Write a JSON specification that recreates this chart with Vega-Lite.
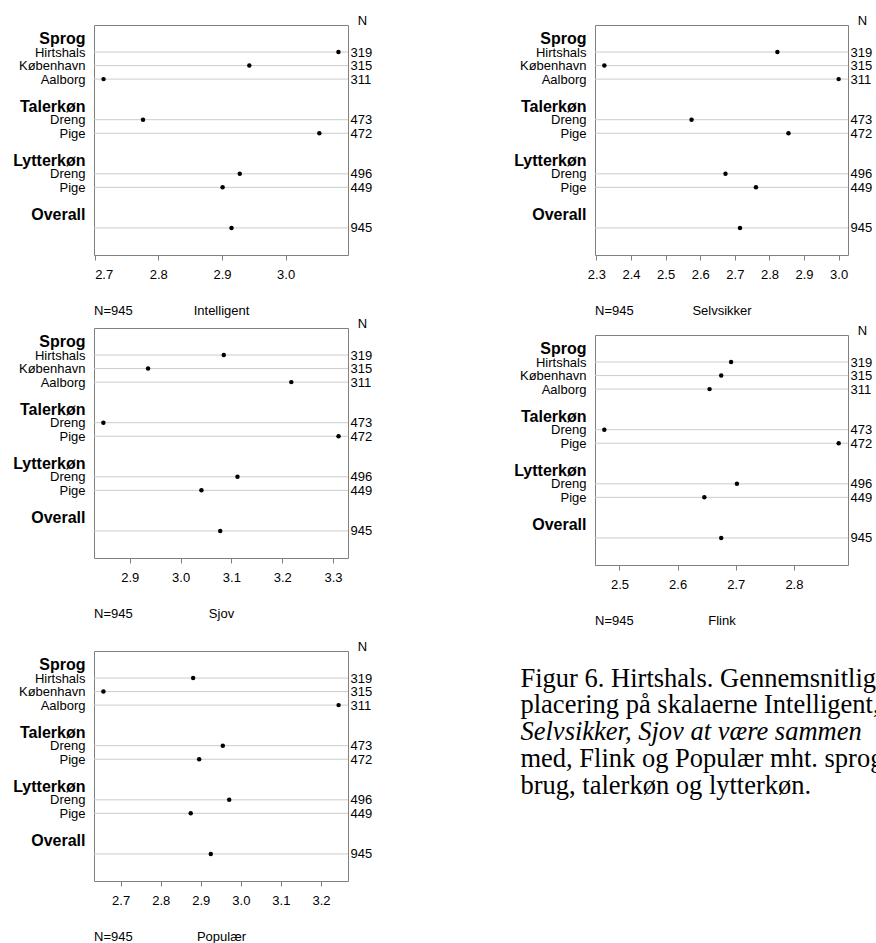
{
  "$schema": "https://vega.github.io/schema/vega-lite/v6.json",
  "background": "white",
  "padding": {"left": 12, "top": 13, "right": 0, "bottom": 0},
  "config": {
    "font": "Liberation Sans",
    "view": {"stroke": "#808080", "strokeWidth": 1},
    "axis": {"labelColor": "black", "titleColor": "black", "labelFontSize": 13, "titleFontSize": 13, "titleFontWeight": "normal", "grid": false, "domain": false, "tickColor": "#808080"},
    "title": {"fontSize": 13, "fontWeight": "normal", "color": "black", "font": "Liberation Sans"}
  },
  "datasets": {
    "means": [
      {"scale": "Intelligent", "row": "Sprog|Hirtshals|319", "mean": 3.083},
      {"scale": "Intelligent", "row": "Sprog|København|315", "mean": 2.943},
      {"scale": "Intelligent", "row": "Sprog|Aalborg|311", "mean": 2.714},
      {"scale": "Intelligent", "row": "Talerkøn|Dreng|473", "mean": 2.776},
      {"scale": "Intelligent", "row": "Talerkøn|Pige|472", "mean": 3.053},
      {"scale": "Intelligent", "row": "Lytterkøn|Dreng|496", "mean": 2.928},
      {"scale": "Intelligent", "row": "Lytterkøn|Pige|449", "mean": 2.901},
      {"scale": "Intelligent", "row": "Overall||945", "mean": 2.915},
      {"scale": "Selvsikker", "row": "Sprog|Hirtshals|319", "mean": 2.823},
      {"scale": "Selvsikker", "row": "Sprog|København|315", "mean": 2.323},
      {"scale": "Selvsikker", "row": "Sprog|Aalborg|311", "mean": 3.0},
      {"scale": "Selvsikker", "row": "Talerkøn|Dreng|473", "mean": 2.575},
      {"scale": "Selvsikker", "row": "Talerkøn|Pige|472", "mean": 2.855},
      {"scale": "Selvsikker", "row": "Lytterkøn|Dreng|496", "mean": 2.673},
      {"scale": "Selvsikker", "row": "Lytterkøn|Pige|449", "mean": 2.761},
      {"scale": "Selvsikker", "row": "Overall||945", "mean": 2.715},
      {"scale": "Sjov", "row": "Sprog|Hirtshals|319", "mean": 3.085},
      {"scale": "Sjov", "row": "Sprog|København|315", "mean": 2.936},
      {"scale": "Sjov", "row": "Sprog|Aalborg|311", "mean": 3.218},
      {"scale": "Sjov", "row": "Talerkøn|Dreng|473", "mean": 2.848},
      {"scale": "Sjov", "row": "Talerkøn|Pige|472", "mean": 3.311},
      {"scale": "Sjov", "row": "Lytterkøn|Dreng|496", "mean": 3.112},
      {"scale": "Sjov", "row": "Lytterkøn|Pige|449", "mean": 3.041},
      {"scale": "Sjov", "row": "Overall||945", "mean": 3.078},
      {"scale": "Flink", "row": "Sprog|Hirtshals|319", "mean": 2.692},
      {"scale": "Flink", "row": "Sprog|København|315", "mean": 2.675},
      {"scale": "Flink", "row": "Sprog|Aalborg|311", "mean": 2.655},
      {"scale": "Flink", "row": "Talerkøn|Dreng|473", "mean": 2.474},
      {"scale": "Flink", "row": "Talerkøn|Pige|472", "mean": 2.877},
      {"scale": "Flink", "row": "Lytterkøn|Dreng|496", "mean": 2.702},
      {"scale": "Flink", "row": "Lytterkøn|Pige|449", "mean": 2.646},
      {"scale": "Flink", "row": "Overall||945", "mean": 2.675},
      {"scale": "Populær", "row": "Sprog|Hirtshals|319", "mean": 2.881},
      {"scale": "Populær", "row": "Sprog|København|315", "mean": 2.657},
      {"scale": "Populær", "row": "Sprog|Aalborg|311", "mean": 3.244},
      {"scale": "Populær", "row": "Talerkøn|Dreng|473", "mean": 2.955},
      {"scale": "Populær", "row": "Talerkøn|Pige|472", "mean": 2.896},
      {"scale": "Populær", "row": "Lytterkøn|Dreng|496", "mean": 2.971},
      {"scale": "Populær", "row": "Lytterkøn|Pige|449", "mean": 2.875},
      {"scale": "Populær", "row": "Overall||945", "mean": 2.925}
    ],
    "caption": [
      {"line": "Figur 6. Hirtshals. Gennemsnitlig"},
      {"line": "placering på skalaerne Intelligent,"},
      {"line": "Selvsikker, Sjov at være sammen"},
      {"line": "med, Flink og Populær mht. sprog-"},
      {"line": "brug, talerkøn og lytterkøn."}
    ]
  },
  "data": {"name": "means"},
  "spacing": 140,
  "hconcat": [
    {
      "spacing": -3,
      "vconcat": [
        {
          "width": 254, "height": 230,
          "title": {"text": "N=945", "orient": "bottom", "anchor": "start", "frame": "group", "offset": -12},
          "transform": [{"filter": "datum.scale === 'Intelligent'"}],
          "layer": [
            {"mark": {"type": "rule", "color": "#cccccc", "strokeWidth": 1},
             "encoding": {"y": {"field": "row", "type": "ordinal",
               "scale": {"type": "point", "padding": 0, "domain": ["_0","Sprog","Sprog|Hirtshals|319","Sprog|København|315","Sprog|Aalborg|311","_5","Talerkøn","Talerkøn|Dreng|473","Talerkøn|Pige|472","_9","Lytterkøn","Lytterkøn|Dreng|496","Lytterkøn|Pige|449","_13","Overall","Overall||945","_16","_17"]},
               "axis": {"orient": "left", "title": null, "ticks": false, "tickSize": 0, "domain": false, "labelPadding": 9, "labelLimit": 0, "labelOverlap": false,
                 "values": ["Sprog","Sprog|Hirtshals|319","Sprog|København|315","Sprog|Aalborg|311","Talerkøn","Talerkøn|Dreng|473","Talerkøn|Pige|472","Lytterkøn","Lytterkøn|Dreng|496","Lytterkøn|Pige|449","Overall"],
                 "labelExpr": "indexof(datum.value, '|') < 0 ? datum.value : split(datum.value, '|')[1]",
                 "labelFontWeight": {"condition": {"test": "indexof(datum.value, '|') < 0", "value": "bold"}, "value": "normal"},
                 "labelFontSize": {"condition": {"test": "indexof(datum.value, '|') < 0", "value": 16}, "value": 13}}}}},
            {"mark": {"type": "circle", "color": "black", "size": 20, "opacity": 1},
             "encoding": {
               "x": {"field": "mean", "type": "quantitative", "scale": {"domain": [2.699, 3.098], "nice": false, "zero": false},
                 "axis": {"values": [2.7, 2.8, 2.9, 3.0], "format": ".1f", "title": "Intelligent", "tickSize": 5, "labelPadding": 8, "titlePadding": 23, "domain": false}},
               "y": {"field": "row", "type": "ordinal",
                 "scale": {"type": "point", "padding": 0, "domain": ["_0","Sprog","Sprog|Hirtshals|319","Sprog|København|315","Sprog|Aalborg|311","_5","Talerkøn","Talerkøn|Dreng|473","Talerkøn|Pige|472","_9","Lytterkøn","Lytterkøn|Dreng|496","Lytterkøn|Pige|449","_13","Overall","Overall||945","_16","_17"]},
                 "axis": {"orient": "right", "title": "N", "titleAngle": 0, "titleAlign": "center", "titleBaseline": "alphabetic", "titleX": 14, "titleY": -1, "ticks": false, "tickSize": 0, "domain": false, "labelPadding": 2, "labelOverlap": false,
                   "values": ["Sprog|Hirtshals|319","Sprog|København|315","Sprog|Aalborg|311","Talerkøn|Dreng|473","Talerkøn|Pige|472","Lytterkøn|Dreng|496","Lytterkøn|Pige|449","Overall||945"],
                   "labelExpr": "split(datum.value, '|')[2]"}}}}
          ],
          "resolve": {"axis": {"y": "independent"}}
        },
        {
          "spacing": 17,
          "vconcat": [
            {
              "width": 254, "height": 230,
              "title": {"text": "N=945", "orient": "bottom", "anchor": "start", "frame": "group", "offset": -12},
              "transform": [{"filter": "datum.scale === 'Sjov'"}],
              "layer": [
                {"mark": {"type": "rule", "color": "#cccccc", "strokeWidth": 1},
                 "encoding": {"y": {"field": "row", "type": "ordinal",
                   "scale": {"type": "point", "padding": 0, "domain": ["_0","Sprog","Sprog|Hirtshals|319","Sprog|København|315","Sprog|Aalborg|311","_5","Talerkøn","Talerkøn|Dreng|473","Talerkøn|Pige|472","_9","Lytterkøn","Lytterkøn|Dreng|496","Lytterkøn|Pige|449","_13","Overall","Overall||945","_16","_17"]},
                   "axis": {"orient": "left", "title": null, "ticks": false, "tickSize": 0, "domain": false, "labelPadding": 9, "labelLimit": 0, "labelOverlap": false,
                     "values": ["Sprog","Sprog|Hirtshals|319","Sprog|København|315","Sprog|Aalborg|311","Talerkøn","Talerkøn|Dreng|473","Talerkøn|Pige|472","Lytterkøn","Lytterkøn|Dreng|496","Lytterkøn|Pige|449","Overall"],
                     "labelExpr": "indexof(datum.value, '|') < 0 ? datum.value : split(datum.value, '|')[1]",
                     "labelFontWeight": {"condition": {"test": "indexof(datum.value, '|') < 0", "value": "bold"}, "value": "normal"},
                     "labelFontSize": {"condition": {"test": "indexof(datum.value, '|') < 0", "value": 16}, "value": 13}}}}},
                {"mark": {"type": "circle", "color": "black", "size": 20, "opacity": 1},
                 "encoding": {
                   "x": {"field": "mean", "type": "quantitative", "scale": {"domain": [2.8295, 3.3296], "nice": false, "zero": false},
                     "axis": {"values": [2.9, 3.0, 3.1, 3.2, 3.3], "format": ".1f", "title": "Sjov", "tickSize": 5, "labelPadding": 8, "titlePadding": 23, "domain": false}},
                   "y": {"field": "row", "type": "ordinal",
                     "scale": {"type": "point", "padding": 0, "domain": ["_0","Sprog","Sprog|Hirtshals|319","Sprog|København|315","Sprog|Aalborg|311","_5","Talerkøn","Talerkøn|Dreng|473","Talerkøn|Pige|472","_9","Lytterkøn","Lytterkøn|Dreng|496","Lytterkøn|Pige|449","_13","Overall","Overall||945","_16","_17"]},
                     "axis": {"orient": "right", "title": "N", "titleAngle": 0, "titleAlign": "center", "titleBaseline": "alphabetic", "titleX": 14, "titleY": -1, "ticks": false, "tickSize": 0, "domain": false, "labelPadding": 2, "labelOverlap": false,
                       "values": ["Sprog|Hirtshals|319","Sprog|København|315","Sprog|Aalborg|311","Talerkøn|Dreng|473","Talerkøn|Pige|472","Lytterkøn|Dreng|496","Lytterkøn|Pige|449","Overall||945"],
                       "labelExpr": "split(datum.value, '|')[2]"}}}}
              ],
              "resolve": {"axis": {"y": "independent"}}
            },
            {
              "width": 254, "height": 230,
              "title": {"text": "N=945", "orient": "bottom", "anchor": "start", "frame": "group", "offset": -12},
              "transform": [{"filter": "datum.scale === 'Populær'"}],
              "layer": [
                {"mark": {"type": "rule", "color": "#cccccc", "strokeWidth": 1},
                 "encoding": {"y": {"field": "row", "type": "ordinal",
                   "scale": {"type": "point", "padding": 0, "domain": ["_0","Sprog","Sprog|Hirtshals|319","Sprog|København|315","Sprog|Aalborg|311","_5","Talerkøn","Talerkøn|Dreng|473","Talerkøn|Pige|472","_9","Lytterkøn","Lytterkøn|Dreng|496","Lytterkøn|Pige|449","_13","Overall","Overall||945","_16","_17"]},
                   "axis": {"orient": "left", "title": null, "ticks": false, "tickSize": 0, "domain": false, "labelPadding": 9, "labelLimit": 0, "labelOverlap": false,
                     "values": ["Sprog","Sprog|Hirtshals|319","Sprog|København|315","Sprog|Aalborg|311","Talerkøn","Talerkøn|Dreng|473","Talerkøn|Pige|472","Lytterkøn","Lytterkøn|Dreng|496","Lytterkøn|Pige|449","Overall"],
                     "labelExpr": "indexof(datum.value, '|') < 0 ? datum.value : split(datum.value, '|')[1]",
                     "labelFontWeight": {"condition": {"test": "indexof(datum.value, '|') < 0", "value": "bold"}, "value": "normal"},
                     "labelFontSize": {"condition": {"test": "indexof(datum.value, '|') < 0", "value": 16}, "value": 13}}}}},
                {"mark": {"type": "circle", "color": "black", "size": 20, "opacity": 1},
                 "encoding": {
                   "x": {"field": "mean", "type": "quantitative", "scale": {"domain": [2.6335, 3.2675], "nice": false, "zero": false},
                     "axis": {"values": [2.7, 2.8, 2.9, 3.0, 3.1, 3.2], "format": ".1f", "title": "Populær", "tickSize": 5, "labelPadding": 8, "titlePadding": 23, "domain": false}},
                   "y": {"field": "row", "type": "ordinal",
                     "scale": {"type": "point", "padding": 0, "domain": ["_0","Sprog","Sprog|Hirtshals|319","Sprog|København|315","Sprog|Aalborg|311","_5","Talerkøn","Talerkøn|Dreng|473","Talerkøn|Pige|472","_9","Lytterkøn","Lytterkøn|Dreng|496","Lytterkøn|Pige|449","_13","Overall","Overall||945","_16","_17"]},
                     "axis": {"orient": "right", "title": "N", "titleAngle": 0, "titleAlign": "center", "titleBaseline": "alphabetic", "titleX": 14, "titleY": -1, "ticks": false, "tickSize": 0, "domain": false, "labelPadding": 2, "labelOverlap": false,
                       "values": ["Sprog|Hirtshals|319","Sprog|København|315","Sprog|Aalborg|311","Talerkøn|Dreng|473","Talerkøn|Pige|472","Lytterkøn|Dreng|496","Lytterkøn|Pige|449","Overall||945"],
                       "labelExpr": "split(datum.value, '|')[2]"}}}}
              ],
              "resolve": {"axis": {"y": "independent"}}
            }
          ]
        }
      ]
    },
    {
      "spacing": 4,
      "vconcat": [
        {
          "width": 253, "height": 230,
          "title": {"text": "N=945", "orient": "bottom", "anchor": "start", "frame": "group", "offset": -12},
          "transform": [{"filter": "datum.scale === 'Selvsikker'"}],
          "layer": [
            {"mark": {"type": "rule", "color": "#cccccc", "strokeWidth": 1},
             "encoding": {"y": {"field": "row", "type": "ordinal",
               "scale": {"type": "point", "padding": 0, "domain": ["_0","Sprog","Sprog|Hirtshals|319","Sprog|København|315","Sprog|Aalborg|311","_5","Talerkøn","Talerkøn|Dreng|473","Talerkøn|Pige|472","_9","Lytterkøn","Lytterkøn|Dreng|496","Lytterkøn|Pige|449","_13","Overall","Overall||945","_16","_17"]},
               "axis": {"orient": "left", "title": null, "ticks": false, "tickSize": 0, "domain": false, "labelPadding": 9, "labelLimit": 0, "labelOverlap": false,
                 "values": ["Sprog","Sprog|Hirtshals|319","Sprog|København|315","Sprog|Aalborg|311","Talerkøn","Talerkøn|Dreng|473","Talerkøn|Pige|472","Lytterkøn","Lytterkøn|Dreng|496","Lytterkøn|Pige|449","Overall"],
                 "labelExpr": "indexof(datum.value, '|') < 0 ? datum.value : split(datum.value, '|')[1]",
                 "labelFontWeight": {"condition": {"test": "indexof(datum.value, '|') < 0", "value": "bold"}, "value": "normal"},
                 "labelFontSize": {"condition": {"test": "indexof(datum.value, '|') < 0", "value": 16}, "value": 13}}}}},
            {"mark": {"type": "circle", "color": "black", "size": 20, "opacity": 1},
             "encoding": {
               "x": {"field": "mean", "type": "quantitative", "scale": {"domain": [2.296, 3.027], "nice": false, "zero": false},
                 "axis": {"values": [2.3, 2.4, 2.5, 2.6, 2.7, 2.8, 2.9, 3.0], "format": ".1f", "title": "Selvsikker", "tickSize": 5, "labelPadding": 8, "titlePadding": 23, "domain": false}},
               "y": {"field": "row", "type": "ordinal",
                 "scale": {"type": "point", "padding": 0, "domain": ["_0","Sprog","Sprog|Hirtshals|319","Sprog|København|315","Sprog|Aalborg|311","_5","Talerkøn","Talerkøn|Dreng|473","Talerkøn|Pige|472","_9","Lytterkøn","Lytterkøn|Dreng|496","Lytterkøn|Pige|449","_13","Overall","Overall||945","_16","_17"]},
                 "axis": {"orient": "right", "title": "N", "titleAngle": 0, "titleAlign": "center", "titleBaseline": "alphabetic", "titleX": 14, "titleY": -1, "ticks": false, "tickSize": 0, "domain": false, "labelPadding": 2, "labelOverlap": false,
                   "values": ["Sprog|Hirtshals|319","Sprog|København|315","Sprog|Aalborg|311","Talerkøn|Dreng|473","Talerkøn|Pige|472","Lytterkøn|Dreng|496","Lytterkøn|Pige|449","Overall||945"],
                   "labelExpr": "split(datum.value, '|')[2]"}}}}
          ],
          "resolve": {"axis": {"y": "independent"}}
        },
        {
          "spacing": 36,
          "vconcat": [
            {
              "width": 253, "height": 230,
              "title": {"text": "N=945", "orient": "bottom", "anchor": "start", "frame": "group", "offset": -12},
              "transform": [{"filter": "datum.scale === 'Flink'"}],
              "layer": [
                {"mark": {"type": "rule", "color": "#cccccc", "strokeWidth": 1},
                 "encoding": {"y": {"field": "row", "type": "ordinal",
                   "scale": {"type": "point", "padding": 0, "domain": ["_0","Sprog","Sprog|Hirtshals|319","Sprog|København|315","Sprog|Aalborg|311","_5","Talerkøn","Talerkøn|Dreng|473","Talerkøn|Pige|472","_9","Lytterkøn","Lytterkøn|Dreng|496","Lytterkøn|Pige|449","_13","Overall","Overall||945","_16","_17"]},
                   "axis": {"orient": "left", "title": null, "ticks": false, "tickSize": 0, "domain": false, "labelPadding": 9, "labelLimit": 0, "labelOverlap": false,
                     "values": ["Sprog","Sprog|Hirtshals|319","Sprog|København|315","Sprog|Aalborg|311","Talerkøn","Talerkøn|Dreng|473","Talerkøn|Pige|472","Lytterkøn","Lytterkøn|Dreng|496","Lytterkøn|Pige|449","Overall"],
                     "labelExpr": "indexof(datum.value, '|') < 0 ? datum.value : split(datum.value, '|')[1]",
                     "labelFontWeight": {"condition": {"test": "indexof(datum.value, '|') < 0", "value": "bold"}, "value": "normal"},
                     "labelFontSize": {"condition": {"test": "indexof(datum.value, '|') < 0", "value": 16}, "value": 13}}}}},
                {"mark": {"type": "circle", "color": "black", "size": 20, "opacity": 1},
                 "encoding": {
                   "x": {"field": "mean", "type": "quantitative", "scale": {"domain": [2.458, 2.893], "nice": false, "zero": false},
                     "axis": {"values": [2.5, 2.6, 2.7, 2.8], "format": ".1f", "title": "Flink", "tickSize": 5, "labelPadding": 8, "titlePadding": 23, "domain": false}},
                   "y": {"field": "row", "type": "ordinal",
                     "scale": {"type": "point", "padding": 0, "domain": ["_0","Sprog","Sprog|Hirtshals|319","Sprog|København|315","Sprog|Aalborg|311","_5","Talerkøn","Talerkøn|Dreng|473","Talerkøn|Pige|472","_9","Lytterkøn","Lytterkøn|Dreng|496","Lytterkøn|Pige|449","_13","Overall","Overall||945","_16","_17"]},
                     "axis": {"orient": "right", "title": "N", "titleAngle": 0, "titleAlign": "center", "titleBaseline": "alphabetic", "titleX": 14, "titleY": -1, "ticks": false, "tickSize": 0, "domain": false, "labelPadding": 2, "labelOverlap": false,
                       "values": ["Sprog|Hirtshals|319","Sprog|København|315","Sprog|Aalborg|311","Talerkøn|Dreng|473","Talerkøn|Pige|472","Lytterkøn|Dreng|496","Lytterkøn|Pige|449","Overall||945"],
                       "labelExpr": "split(datum.value, '|')[2]"}}}}
              ],
              "resolve": {"axis": {"y": "independent"}}
            },
            {
              "width": 253, "height": 107,
              "view": {"stroke": null},
              "data": {"name": "caption"},
              "mark": {"type": "point", "opacity": 0},
              "encoding": {
                "y": {"field": "line", "type": "ordinal", "sort": null, "scale": {"type": "point", "padding": 0},
                  "axis": {"title": null, "domain": false, "ticks": false, "tickSize": 0, "labelAlign": "left", "labelBaseline": "alphabetic", "labelPadding": 75, "labelFont": "Liberation Serif", "labelFontSize": 26.5, "labelLimit": 0, "labelOverlap": false, "labelColor": "black",
                    "labelFontStyle": {"condition": {"test": "datum.value === 'Selvsikker, Sjov at være sammen'", "value": "italic"}, "value": "normal"}}}
              }
            }
          ]
        }
      ]
    }
  ]
}
